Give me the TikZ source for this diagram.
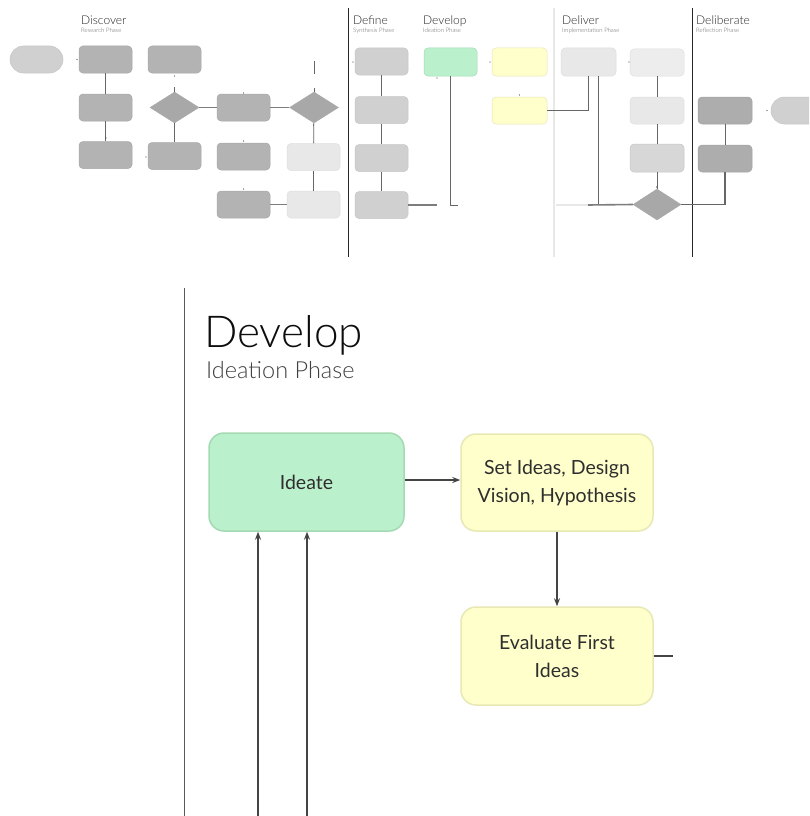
\documentclass[tikz,border=0pt]{standalone}
\usepackage{fontspec}
\IfFontExistsTF{Lato Light}{\setmainfont{Lato Light}}{\setmainfont{Lato}}
\newfontfamily\boxfont{Lato}
\usetikzlibrary{shapes.geometric,shapes.misc,arrows.meta,calc}
\definecolor{dk}{HTML}{B3B3B3}
\definecolor{dkb}{HTML}{A8A8A8}
\definecolor{dd}{HTML}{ADADAD}
\definecolor{ddb}{HTML}{A4A4A4}
\definecolor{md}{HTML}{D0D0D0}
\definecolor{mdb}{HTML}{C6C6C6}
\definecolor{lt}{HTML}{E8E8E8}
\definecolor{ltb}{HTML}{DEDEDE}
\definecolor{grn}{HTML}{BBF0CC}
\definecolor{grnb}{HTML}{A3D9B3}
\definecolor{ylw}{HTML}{FFFFCC}
\definecolor{ylwb}{HTML}{E8E8B4}
\definecolor{ln}{HTML}{666666}
\definecolor{arrc}{HTML}{444444}
\tikzset{
  ob/.style={rectangle, rounded corners=4pt, minimum width=53pt, minimum height=27pt, inner sep=0pt, line width=0.5pt},
  pill/.style={rounded rectangle, minimum width=53pt, minimum height=27pt, inner sep=0pt, fill=md, draw=mdb, line width=0.5pt},
  dia/.style={diamond, minimum width=49pt, minimum height=31pt, inner sep=0pt, fill=dkb, draw=dkb},
  ol/.style={draw=ln, line width=0.8pt},
  ot/.style={draw=ln!85, line width=1.6pt},
  dv/.style={draw=black!85, line width=0.9pt},
  dotm/.style={fill=black!70},
  ttl/.style={anchor=base west, font=\fontsize{12}{14}\selectfont, text=black!85, inner sep=0pt},
  sttl/.style={anchor=base west, font=\fontsize{6}{7}\selectfont, text=black!60, inner sep=0pt},
  dbox/.style={rectangle, rounded corners=15pt, line width=1.5pt, align=center, text=black!82,
     font=\boxfont\fontsize{19.5}{28}\selectfont, inner sep=0pt},
  arr/.style={draw=arrc, line width=1.6pt, -{Stealth[length=8pt,width=6pt]}},
  dline/.style={draw=black!65, line width=1pt}
}
\begin{document}
\begin{tikzpicture}[x=1pt,y=-1pt]
\clip (0,0) rectangle (809,816);
\fill[white] (0,0) rectangle (809,816);
% ---------- overview ----------
% dividers
\draw[dv] (348,8) -- (348,257);
\draw[draw=lt, line width=1.2pt] (554,8) -- (554,257);
\draw[dv] (692,8) -- (692,257);
% titles
\node[ttl] (tDiscover) at (81,25) {Discover};
\node[sttl] (sDiscover) at (81,33) {Research Phase};
\node[ttl] (tDefine) at (353,25) {Define};
\node[sttl] (sDefine) at (353,33) {Synthesis Phase};
\node[ttl] (tDevelop) at (423,25) {Develop};
\node[sttl] (sDevelop) at (423,33) {Ideation Phase};
\node[ttl] (tDeliver) at (562,25) {Deliver};
\node[sttl] (sDeliver) at (562,33) {Implementation Phase};
\node[ttl] (tDeliberate) at (696,25) {Deliberate};
\node[sttl] (sDeliberate) at (696,33) {Reflection Phase};
% discover
\node[pill] (p1) at (36.5,59.5) {};
\node[ob, fill=dk, draw=dkb] (d1) at (105.5,59.5) {};
\node[ob, fill=dk, draw=dkb] (d2) at (105.5,107.5) {};
\node[ob, fill=dk, draw=dkb] (d3) at (105.5,155) {};
\node[ob, fill=dk, draw=dkb] (e1) at (174.5,59.5) {};
\node[dia] (dia1) at (174.5,107.5) {};
\node[ob, fill=dk, draw=dkb] (e3) at (174.5,156) {};
\node[ob, fill=dk, draw=dkb] (f2) at (243.5,107.5) {};
\node[ob, fill=dk, draw=dkb] (f3) at (243.5,156.5) {};
\node[ob, fill=dk, draw=dkb] (f4) at (243.5,204.5) {};
\node[dia] (dia2) at (314,107.5) {};
\node[ob, fill=lt, draw=ltb] (g3) at (313.5,157) {};
\node[ob, fill=lt, draw=ltb] (g4) at (313.5,204.5) {};
\draw[ol] (d1) -- (d2);
\draw[ol] (d2) -- (d3);
\draw[ol] (dia1.north) -- ++(0,-5);
\draw[ol] (dia1) -- (e3);
\draw[ot] (dia1) -- (f2);
\draw[ot] (f2) -- (dia2);
\coordinate (t2a) at (314,61);
\coordinate (t2b) at (314,74);
\draw[ol] (t2a) -- (t2b);
\draw[ol] (dia2.north) -- ++(0,-4);
\draw[ol] (dia2) -- (g3);
\draw[ol] (g3) -- (g4);
\draw[ot] (f4) -- (g4);
\foreach \p in {(77,59.5),(174.5,76),(106,138),(146,157),(243.5,93),(243.5,141),(243.5,189),(313.5,125),(313.5,173)}
  \fill[dotm] \p circle (0.7);
% define
\node[ob, fill=md, draw=mdb] (def1) at (381.5,61.5) {};
\node[ob, fill=md, draw=mdb] (def2) at (381.5,110) {};
\node[ob, fill=md, draw=mdb] (def3) at (381.5,158) {};
\node[ob, fill=md, draw=mdb] (def4) at (381.5,205) {};
\draw[ol] (def1) -- (def2);
\draw[ol] (def2) -- (def3);
\draw[ol] (def3) -- (def4);
\coordinate (defend) at (437,205);
\draw[ot] (def4.east) -- (defend);
% develop
\node[ob, minimum height=28pt, fill=grn, draw=grnb] (green) at (450.5,62) {};
\node[ob, minimum height=28pt, minimum width=55pt, fill=ylw, draw=ylwb] (y1) at (519.5,62) {};
\node[ob, minimum height=27pt, minimum width=55pt, fill=ylw, draw=ylwb] (y2) at (519.5,110.5) {};
\coordinate (brk) at (458,205);
\draw[ol] (green.south) |- (brk);
\foreach \p in {(353,62),(437,78),(490,62),(519.5,95)}
  \fill[dotm] \p circle (0.7);
% deliver
\node[ob, minimum height=28pt, minimum width=55pt, fill=lt, draw=ltb] (del1) at (588.5,62) {};
\node[ob, minimum width=54pt, fill=lt!80, draw=ltb] (c1) at (657,62.5) {};
\node[ob, minimum width=54pt, fill=lt, draw=ltb] (c2) at (657,110.5) {};
\node[ob, minimum width=54pt, minimum height=28pt, fill=md!85, draw=mdb] (c3) at (657,158) {};
\node[dia, minimum width=48pt] (dia3) at (657,204.5) {};
\draw[ol] (y2.east) -| (del1.south);
\coordinate (j0) at (598,205);
\draw[ol] ([xshift=9.5pt]del1.south) -- (j0);
\coordinate (jl) at (556,205);
\coordinate (jm) at (588,205);
\draw[draw=lt, line width=1.6pt] (jl) -- (jm);
\draw[ot] (jm) -- (dia3.west);
\draw[ol] (c1) -- (c2);
\draw[ol] (c2) -- (c3);
\draw[ol] (c3) -- (dia3);
\foreach \p in {(629,62),(656.5,187),(767,110.5)}
  \fill[dotm] \p circle (0.7);
% deliberate
\node[ob, minimum width=54pt, fill=dd, draw=ddb] (r1) at (725,110.5) {};
\node[ob, minimum width=54pt, fill=dd, draw=ddb] (r2) at (725,158.5) {};
\node[pill] (p2) at (797.5,110.5) {};
\draw[ol] (r1) -- (r2);
\draw[draw=ln, line width=1.2pt] (dia3.east) -| (r2.south);
% ---------- detail ----------
\draw[dline] (184,288) -- (184,816);
\node[anchor=base west, inner sep=0pt, font=\fontsize{44}{50}\selectfont, text=black!95] (bigt) at (204,347) {Develop};
\node[anchor=base west, inner sep=0pt, font=\fontsize{23.5}{28}\selectfont, text=black!75] (bigs) at (206,378) {Ideation Phase};
\node[dbox, fill=grn, draw=grnb, minimum width=195pt, minimum height=98pt] (ideate) at (306.5,482) {Ideate};
\node[dbox, fill=ylw, draw=ylwb, minimum width=192pt, minimum height=97pt] (setideas) at (557,482.5) {Set Ideas, Design\\Vision, Hypothesis};
\node[dbox, fill=ylw, draw=ylwb, minimum width=192pt, minimum height=98pt] (evaluate) at (557,656) {Evaluate First\\Ideas};
\draw[arr] (ideate.east |- 0,480) -- (setideas.west |- 0,480);
\draw[arr] (setideas) -- (evaluate);
\coordinate (evs) at (673,656);
\draw[draw=arrc, line width=1.6pt] (evaluate.east) -- (evs);
\coordinate (u1) at (258,816);
\coordinate (u2) at (307,816);
\draw[arr] (u1) -- (u1 |- ideate.south);
\draw[arr] (u2) -- (u2 |- ideate.south);
\end{tikzpicture}
\end{document}
